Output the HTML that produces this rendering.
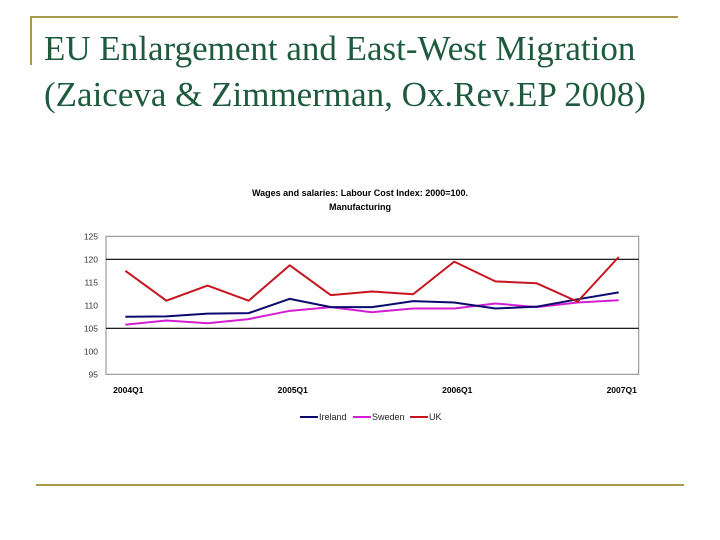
<!DOCTYPE html>
<html><head><meta charset="utf-8"><style>
body{margin:0;width:720px;height:540px;background:#fff;position:relative;overflow:hidden;font-family:"Liberation Sans",sans-serif}
.t{position:absolute;left:44px;font-family:"Liberation Serif",serif;font-size:35px;color:#1e5b3e;white-space:nowrap}
</style></head><body>
<div style="position:absolute;left:30px;top:16px;width:648px;height:2px;background:#a89a4a"></div>
<div style="position:absolute;left:30px;top:16px;width:2px;height:49px;background:#a89a4a"></div>
<div class="t" style="top:29px">EU Enlargement and East-West Migration</div>
<div class="t" style="top:75px">(Zaiceva &amp; Zimmerman, Ox.Rev.EP 2008)</div>
<div style="position:absolute;left:36px;top:484px;width:648px;height:2px;background:#a89a4a"></div>
<svg id="c" width="720" height="540" style="position:absolute;left:0;top:0"></svg>
<script>
const categories=["2004Q1","","","","2005Q1","","","","2006Q1","","","","2007Q1"];
const ireland=[107.5,107.6,108.2,108.3,111.4,109.6,109.6,110.9,110.6,109.3,109.7,111.3,112.8];
const sweden=[105.8,106.7,106.1,107.0,108.8,109.6,108.5,109.3,109.3,110.4,109.6,110.6,111.1];
const uk=[117.5,111.0,114.3,111.0,118.7,112.2,113.0,112.4,119.5,115.2,114.8,110.8,120.5];
const yTicks=[95,100,105,110,115,120,125];
const gridVals=[105,120];
const svg=document.getElementById('c');const NS='http://www.w3.org/2000/svg';
const L=106,R=638.7,T=236.3,B=374.3,ymin=95,ymax=125;
const x0=125.3,x1=618.7;
function X(i){return x0+(x1-x0)*i/(categories.length-1);}
function Y(v){return B-(v-ymin)/(ymax-ymin)*(B-T);}
function mk(t,a){const e=document.createElementNS(NS,t);for(const k in a)e.setAttribute(k,a[k]);svg.appendChild(e);return e;}
let e;
e=mk('text',{x:360,y:196,'text-anchor':'middle','font-size':9,'font-weight':'bold',fill:'#000'});e.textContent='Wages and salaries: Labour Cost Index: 2000=100.';


e=mk('text',{x:360,y:210,'text-anchor':'middle','font-size':9,'font-weight':'bold',fill:'#000'});e.textContent='Manufacturing';


e=mk('rect',{x:L,y:T,width:R-L,height:B-T,fill:'none',stroke:'#888','stroke-width':1});


gridVals.forEach(v=>{e=mk('line',{x1:L,x2:R,y1:Y(v),y2:Y(v),stroke:'#000','stroke-width':1.2});

});
yTicks.forEach(v=>{e=mk('text',{x:98,y:Y(v)+3,'text-anchor':'end','font-size':8.5,fill:'#333'});e.textContent=v;

});
categories.forEach((c,i)=>{if(!c)return;e=mk('text',{x:X(i)+3,y:393,'text-anchor':'middle','font-size':8.5,'font-weight':'bold',fill:'#000'});e.textContent=c;

});
function line(d,col,name){e=mk('polyline',{points:d.map((v,i)=>X(i)+','+Y(v)).join(' '),fill:'none',stroke:col,'stroke-width':2,'stroke-linejoin':'round'});

}
line(sweden,'#d21fd2','series-sweden');
line(ireland,'#0a0a6e','series-ireland');
line(uk,'#c8141e','series-uk');
const leg=[['Ireland','#0a0a6e',300],['Sweden','#d21fd2',353],['UK','#c8141e',410]];
leg.forEach(l=>{e=mk('line',{x1:l[2],x2:l[2]+18,y1:417,y2:417,stroke:l[1],'stroke-width':2});


e=mk('text',{x:l[2]+19,y:420,'font-size':9,fill:'#222'});e.textContent=l[0];

});
</script>
</body></html>
